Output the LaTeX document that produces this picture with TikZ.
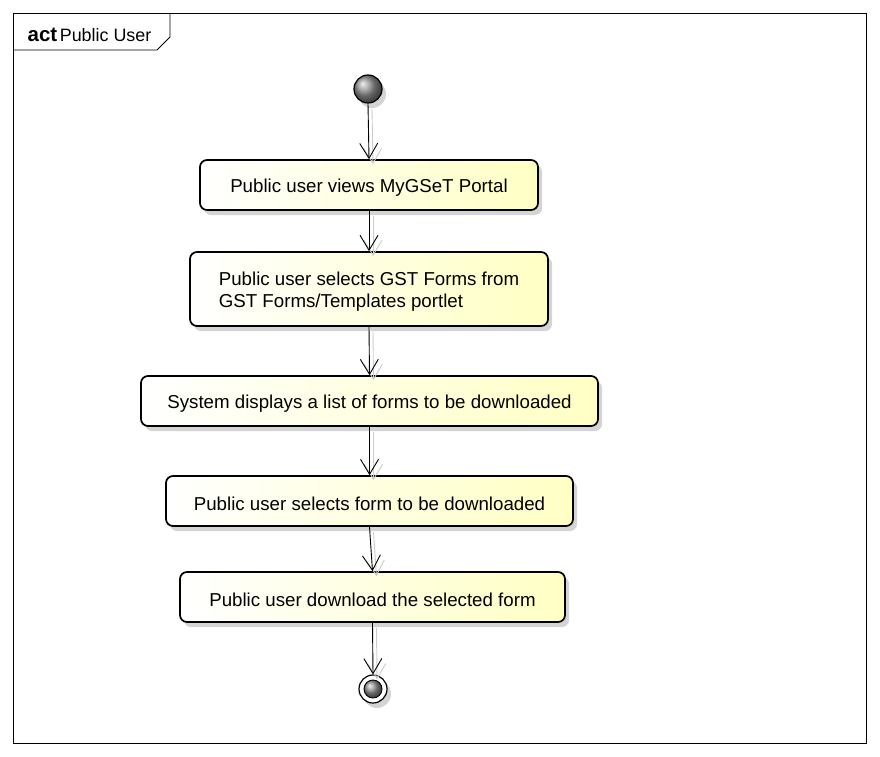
\documentclass[tikz,border=0pt]{standalone}
\usepackage{fontspec}
\setmainfont{Liberation Sans}
\usetikzlibrary{arrows.meta,shadows}
\definecolor{yel}{RGB}{255,255,196}
\newcommand{\fs}{\fontsize{18.7}{22.5}\selectfont}
\newcommand{\dn}[1]{\raisebox{-2.5pt}[\height][\depth]{#1}}
\begin{document}
\begin{tikzpicture}[x=1pt,y=-1pt,
  actbox/.style={draw, line width=1.7pt, rounded corners=7pt, left color=white, right color=yel,
    minimum height=50pt, inner sep=0pt, font=\fs,
    drop shadow={shadow xshift=4pt, shadow yshift=-5pt, fill=black!17, opacity=1}},
  arr/.style={line width=0.9pt, -{Straight Barb[length=15pt,width=18pt,line width=0.9pt]}},
  shad/.style={arr, draw=black!20},
  frm/.style={line width=0.9pt}]
\useasboundingbox (0,0) rectangle (880,756);
% frame
\draw[frm] (13,13) rectangle (866,743);
\draw[frm] (13,50) -- (157,50) -- (170,37) -- (170,13);
\node[anchor=base west, inner sep=0pt] (title) at (27.5,41.5) {\fontsize{20.5}{24}\selectfont\textbf{act}\hspace{2.5pt}\fontsize{17.9}{22}\selectfont Public User};
% nodes
\node[circle, draw, line width=1.2pt, minimum size=28pt, inner sep=0pt, ball color=gray!85,
  drop shadow={shadow xshift=4pt, shadow yshift=-5pt, fill=black!17, opacity=1}] (init) at (368,89) {};
\node[actbox, minimum width=338pt] (b1) at (369,185) {\dn{Public user views MyGSeT Portal}};
\node[actbox, minimum width=358pt, minimum height=74pt, align=left] (b2) at (369,289) {\dn{Public user selects GST Forms from}\\\dn{GST Forms/Templates portlet}};
\node[actbox, minimum width=457pt] (b3) at (369.5,401) {\dn{System displays a list of forms to be downloaded}};
\node[actbox, minimum width=407pt] (b4) at (369.5,501) {\dn{Public user selects form to be downloaded}};
\node[actbox, minimum width=385pt] (b5) at (372.5,597) {\dn{Public user download the selected form}};
\node[circle, draw, line width=1.2pt, fill=white, minimum size=28pt, inner sep=0pt,
  drop shadow={shadow xshift=4pt, shadow yshift=-5pt, fill=black!17, opacity=1}] (fin) at (373,689) {};
\node[circle, draw, line width=0.9pt, minimum size=18pt, inner sep=0pt, ball color=gray!85] (fininner) at (fin) {};
% arrow shadows
\draw[shad] ([shift={(4,5)}]init.south) -- ([shift={(4,5)}]b1.north);
\draw[shad] ([shift={(4,5)}]b1.south) -- ([shift={(4,5)}]b2.north);
\draw[shad] ([shift={(4,5)}]b2.south) -- ([shift={(4,5)}]b3.north);
\draw[shad] ([shift={(4,5)}]b3.south) -- ([shift={(4,5)}]b4.north);
\draw[shad] ([shift={(4,5)}]b4.south) -- ([shift={(4,5)}]b5.north);
\draw[shad] ([shift={(4,5)}]b5.south) -- ([shift={(4,5)}]fin.north);
% arrows
\draw[arr] (init.south) -- (b1.north);
\draw[arr] (b1.south) -- (b2.north);
\draw[arr] (b2.south) -- (b3.north);
\draw[arr] (b3.south) -- (b4.north);
\draw[arr] (b4.south) -- (b5.north);
\draw[arr] (b5.south) -- (fin.north);
\end{tikzpicture}
\end{document}
